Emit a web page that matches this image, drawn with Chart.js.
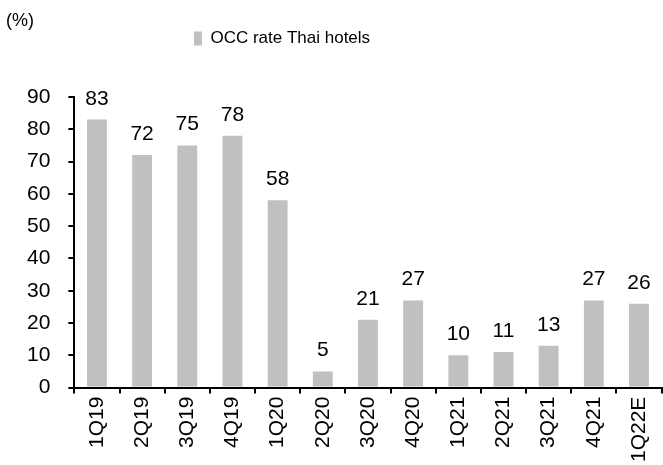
<!DOCTYPE html>
<html lang="en">
<head>
    <meta charset="UTF-8">
    <title>OCC rate Thai hotels</title>
    <script src="https://cdn.jsdelivr.net/npm/chart.js"></script>
    <style>
        body { margin: 0; background: #fff; }
        #wrap { width: 663px; height: 465px; position: relative; }
    </style>
</head>
<body>
    <div id="wrap">
        <canvas id="occChart"></canvas>
    </div>

    <script>
        // Datos
        const quarters = ['1Q19', '2Q19', '3Q19', '4Q19', '1Q20', '2Q20', '3Q20', '4Q20', '1Q21', '2Q21', '3Q21', '4Q21', '1Q22E'];
        const occRate = [83, 72, 75, 78, 58, 5, 21, 27, 10, 11, 13, 27, 26];
        const seriesName = 'OCC rate Thai hotels';
        const unitLabel = '(%)';

        const fontFamily = '"Liberation Sans", Arial, sans-serif';

        // etiquetas encima de cada barra + "(%)" arriba a la izquierda
        const labelsPlugin = {
            id: 'barLabels',
            afterDatasetsDraw(chart) {
                const ctx = chart.ctx;
                const meta = chart.getDatasetMeta(0);
                ctx.save();
                ctx.font = '21px ' + fontFamily;
                ctx.fillStyle = '#000';
                ctx.textAlign = 'center';
                ctx.textBaseline = 'alphabetic';
                meta.data.forEach((bar, i) => {
                    ctx.fillText(occRate[i], bar.x, bar.y - 15);
                });
                ctx.font = '18px ' + fontFamily;
                ctx.textAlign = 'left';
                ctx.textBaseline = 'middle';
                ctx.fillText(unitLabel, 6, 21);
                ctx.restore();
            }
        };

        // espacio extra bajo la leyenda y leyenda desplazada a la izquierda
        const legendSpacing = {
            id: 'legendSpacing',
            beforeInit(chart) {
                const fit = chart.legend.fit;
                chart.legend.fit = function () {
                    fit.bind(chart.legend)();
                    this.height += 40;
                };
            },
            afterLayout(chart) {
                chart.legend.left -= 54;
                chart.legend.right -= 54;
            }
        };

        const config = {
            type: 'bar',
            data: {
                labels: quarters,
                datasets: [{
                    label: seriesName,
                    data: occRate,
                    backgroundColor: '#c0c0c0',
                    borderWidth: 0,
                    barPercentage: 0.44,
                    categoryPercentage: 1
                }]
            },
            options: {
                responsive: true,
                maintainAspectRatio: false,
                animation: false,
                layout: { padding: { top: 0, left: 9, right: 0, bottom: 0 } },
                plugins: {
                    legend: {
                        position: 'top',
                        labels: {
                            font: { family: fontFamily, size: 17 },
                            color: '#000',
                            boxWidth: 8,
                            boxHeight: 14,
                            padding: 30
                        }
                    },
                    tooltip: { enabled: false }
                },
                scales: {
                    x: {
                        grid: { display: true, drawOnChartArea: false, drawTicks: true, tickLength: 6, color: '#000', lineWidth: 2, offset: true },
                        border: { color: '#000', width: 2 },
                        ticks: {
                            color: '#000',
                            font: { family: fontFamily, size: 21, lineHeight: 1 },
                            minRotation: 90,
                            maxRotation: 90,
                            autoSkip: false,
                            padding: 3
                        }
                    },
                    y: {
                        min: 0,
                        max: 90,
                        grid: { display: true, drawOnChartArea: false, drawTicks: true, tickLength: 6, color: '#000', lineWidth: 2 },
                        border: { color: '#000', width: 2 },
                        ticks: {
                            stepSize: 10,
                            color: '#000',
                            font: { family: fontFamily, size: 21 },
                            padding: 18
                        }
                    }
                }
            },
            plugins: [labelsPlugin, legendSpacing]
        };

        const ctx = document.getElementById('occChart').getContext('2d');
        const occChart = new Chart(ctx, config);
    </script>
</body>
</html>
